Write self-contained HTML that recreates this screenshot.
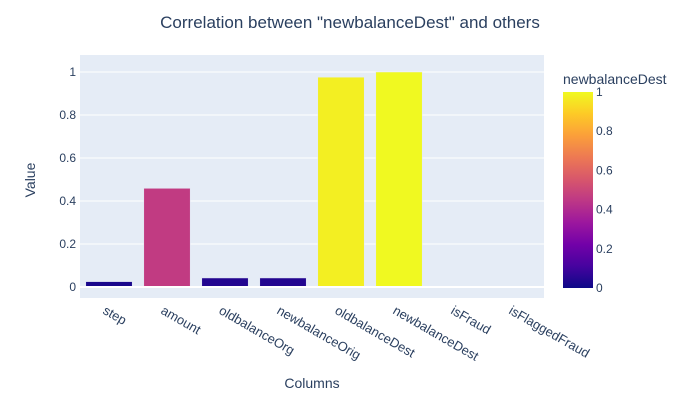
<!DOCTYPE html>
<html><head><meta charset="utf-8"><style>
body{margin:0;background:#fff;font-family:"Liberation Sans",Arial,sans-serif;}
svg text{font-family:"Liberation Sans",Arial,sans-serif;fill:#2a3f5f;}
</style></head><body>
<svg id="c" width="700" height="400">
<defs><linearGradient id="pl" x1="0" y1="1" x2="0" y2="0">
<stop offset="0" stop-color="#0d0887"/><stop offset="0.111" stop-color="#46039f"/><stop offset="0.222" stop-color="#7201a8"/><stop offset="0.333" stop-color="#9c179e"/><stop offset="0.444" stop-color="#bd3786"/><stop offset="0.556" stop-color="#d8576b"/><stop offset="0.667" stop-color="#ed7953"/><stop offset="0.778" stop-color="#fb9f3a"/><stop offset="0.889" stop-color="#fdca26"/><stop offset="1" stop-color="#f0f921"/></linearGradient></defs>
</svg>
<script>
const categories=["step","amount","oldbalanceOrg","newbalanceOrig","oldbalanceDest","newbalanceDest","isFraud","isFlaggedFraud"];
const values=[0.025,0.459,0.042,0.042,0.976,1.0,0.0005,-0.0003];
const yTicks=[0,0.2,0.4,0.6,0.8,1];
const yTickLabels=["0","0.2","0.4","0.6","0.8","1"];
const cbTicks=[0,0.2,0.4,0.6,0.8,1];
const svg=document.getElementById('c');
const NS='http://www.w3.org/2000/svg';
function mk(t,a,p){const e=document.createElementNS(NS,t);for(const k in a)e.setAttribute(k,a[k]);(p||svg).appendChild(e);return e;}
const L=80,R=544,T=55,B=298,Y0=287,Y1=72;
const y=v=>Y0-(Y0-Y1)*v;
const bw=(R-L)/categories.length;
const x=i=>L+bw*(i+0.5);
const stops=[[0,[13,8,135]],[0.111,[70,3,159]],[0.222,[114,1,168]],[0.333,[156,23,158]],[0.444,[189,55,134]],[0.556,[216,87,107]],[0.667,[237,121,83]],[0.778,[251,159,58]],[0.889,[253,202,38]],[1,[240,249,33]]];
function col(v){v=Math.max(0,Math.min(1,v));for(let i=1;i<stops.length;i++){if(v<=stops[i][0]){const a=stops[i-1],b=stops[i],t=(v-a[0])/(b[0]-a[0]);return 'rgb('+a[1].map((c,j)=>Math.round(c+(b[1][j]-c)*t)).join(',')+')';}}return 'rgb(240,249,33)';}
let e=mk('rect',{x:L,y:T,width:R-L,height:B-T,fill:'#e5ecf6'});


yTicks.forEach((v,i)=>{
 if(v!==0){const g=mk('line',{x1:L,x2:R,y1:y(v),y2:y(v),stroke:'#fff','stroke-width':1});
 
 }
 const t=mk('text',{x:L-4,y:y(v)+4,'text-anchor':'end','font-size':12});t.textContent=yTickLabels[i];
 
 
});
values.forEach((v,i)=>{
 const w=bw*0.8;const top=Math.min(y(v),Y0),h=Math.abs(y(v)-Y0);
 const b=mk('rect',{x:x(i)-w/2,y:top,width:w,height:Math.max(h,0.3),fill:col(v),stroke:'#e5ecf6','stroke-width':0.5});
 
 
 const t=mk('text',{transform:`translate(${x(i)-7},${B+15}) rotate(30)`,'font-size':13});t.textContent=categories[i];
 
 
});
e=mk('line',{x1:L,x2:R,y1:Y0,y2:Y0,stroke:'#fff','stroke-width':2});


const cbT=92,cbB=288;
e=mk('rect',{x:563,y:cbT,width:30,height:cbB-cbT,fill:'url(#pl)'});


cbTicks.forEach(v=>{const t=mk('text',{x:596,y:cbB-(cbB-cbT)*v+4,'font-size':12});t.textContent=String(v);
 
 });
function txt(s,a,n){const t=mk('text',a);t.textContent=s;}
txt('newbalanceDest',{x:563,y:84,'font-size':14},'colorbar-title');
txt('Correlation between "newbalanceDest" and others',{x:350,y:28,'text-anchor':'middle','font-size':17},'chart-title');
txt('Columns',{x:312,y:388,'text-anchor':'middle','font-size':14},'x-axis-title');
txt('Value',{transform:'translate(35,180) rotate(-90)','text-anchor':'middle','font-size':14},'y-axis-title');
</script>
</body></html>
